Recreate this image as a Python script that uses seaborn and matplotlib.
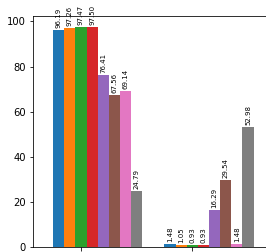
import matplotlib
matplotlib.use("Agg")
import matplotlib.pyplot as plt
import seaborn as sns
import pandas as pd

categories = ["A", "B"]
series = ["s1", "s2", "s3", "s4", "s5", "s6", "s7", "s8"]
values_a = [96.19, 97.26, 97.47, 97.50, 76.41, 67.56, 69.14, 24.79]
values_b = [1.48, 1.05, 0.93, 0.93, 16.29, 29.54, 1.48, 52.98]
tick_labels = ["", ""]

colors = ["#1f77b4", "#ff7f0e", "#2ca02c", "#d62728",
          "#9467bd", "#8c564b", "#e377c2", "#7f7f7f"]

rows = []
for s, va, vb in zip(series, values_a, values_b):
    rows.append({"cat": categories[0], "series": s, "value": va})
    rows.append({"cat": categories[1], "series": s, "value": vb})
df = pd.DataFrame(rows)

fig = plt.figure(figsize=(266 / 72, 252 / 72), dpi=72)
ax = fig.add_axes([33 / 266, 5 / 252, 240.7 / 266, 231 / 252])

sns.barplot(data=df, x="cat", y="value", hue="series", order=categories,
            hue_order=series, palette=colors, width=0.8, ax=ax,
            errorbar=None, legend=False, linewidth=0, saturation=1)

for c in ax.containers:
    ax.bar_label(c, fmt="%.2f", rotation=90, padding=2, fontsize=7)

ax.set_xticks([-0.15, 0.85])
ax.set_xticklabels(tick_labels)
ax.set_xlim(-0.581, 1.581)
ax.set_ylim(0, 102.4)
ax.set_xlabel("")
ax.set_ylabel("")

fig.savefig("out.png", dpi=72)
